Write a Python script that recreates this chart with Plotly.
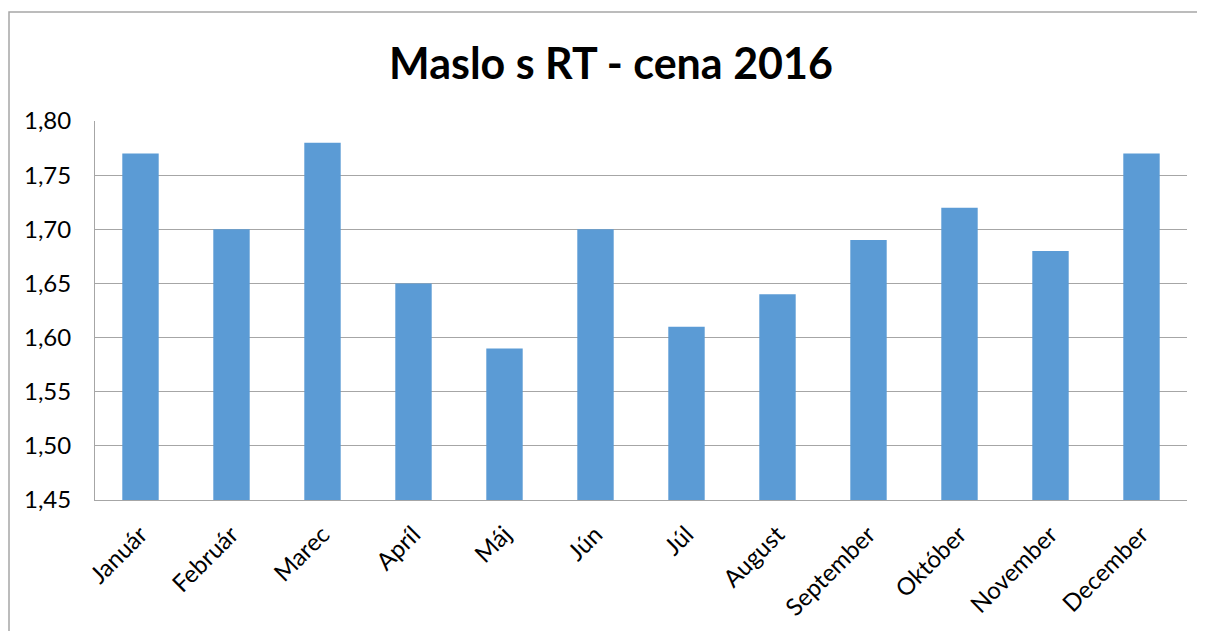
import plotly.graph_objects as go

months = ["Január", "Február", "Marec", "Apríl", "Máj", "Jún", "Júl", "August",
          "September", "Október", "November", "December"]
prices = [1.77, 1.70, 1.78, 1.65, 1.59, 1.70, 1.61, 1.64, 1.69, 1.72, 1.68, 1.77]
y_ticks = [1.45, 1.50, 1.55, 1.60, 1.65, 1.70, 1.75, 1.80]

# page body has an 8px margin; figure sized so it ends at the window edge
OFF = 8
W, H = 1205 - OFF, 631 - OFF
L, R, T, B = 95 - OFF, 1187 - OFF, 121 - OFF, 500 - OFF
pw, ph = R - L, B - T
FONT = "Lato, Carlito, Calibri, sans-serif"

fig = go.Figure(go.Bar(x=months, y=prices, marker=dict(color="#5B9BD5", line=dict(width=0))))

fig.update_layout(
    width=W, height=H,
    margin=dict(l=L, r=W - R, t=T, b=H - B, autoexpand=False),
    paper_bgcolor="white", plot_bgcolor="white",
    separators=", ",
    bargap=0.6,
    showlegend=False,
    font=dict(family=FONT, color="#000000"),
    title=dict(text="<b>Maslo s RT - cena 2016</b>", x=(611 - OFF) / W, xanchor="center",
               y=1 - (64 - OFF) / H, yanchor="middle",
               font=dict(size=43, family=FONT, color="#000")),
    xaxis=dict(tickangle=-45, tickfont=dict(size=24), showgrid=False,
               showline=True, linecolor="#A6A6A6", linewidth=1, ticks="",
               ticklabelstandoff=10),
    yaxis=dict(range=[1.45, 1.80], tickvals=y_ticks, tickformat=".2f",
               tickfont=dict(size=24), showgrid=True, gridcolor="#A6A6A6", gridwidth=1,
               showline=True, linecolor="#A6A6A6", linewidth=1, ticks="",
               ticklabelstandoff=18, zeroline=False),
    shapes=[dict(type="rect", xref="paper", yref="paper",
                 x0=(1 - L) / pw, x1=(W + 5 - L) / pw,
                 y0=(B - (H + 5)) / ph, y1=(B - 4) / ph,
                 line=dict(color="#A6A6A6", width=1.5), fillcolor="rgba(0,0,0,0)",
                 layer="below")],
)

fig.write_html("out.html")
